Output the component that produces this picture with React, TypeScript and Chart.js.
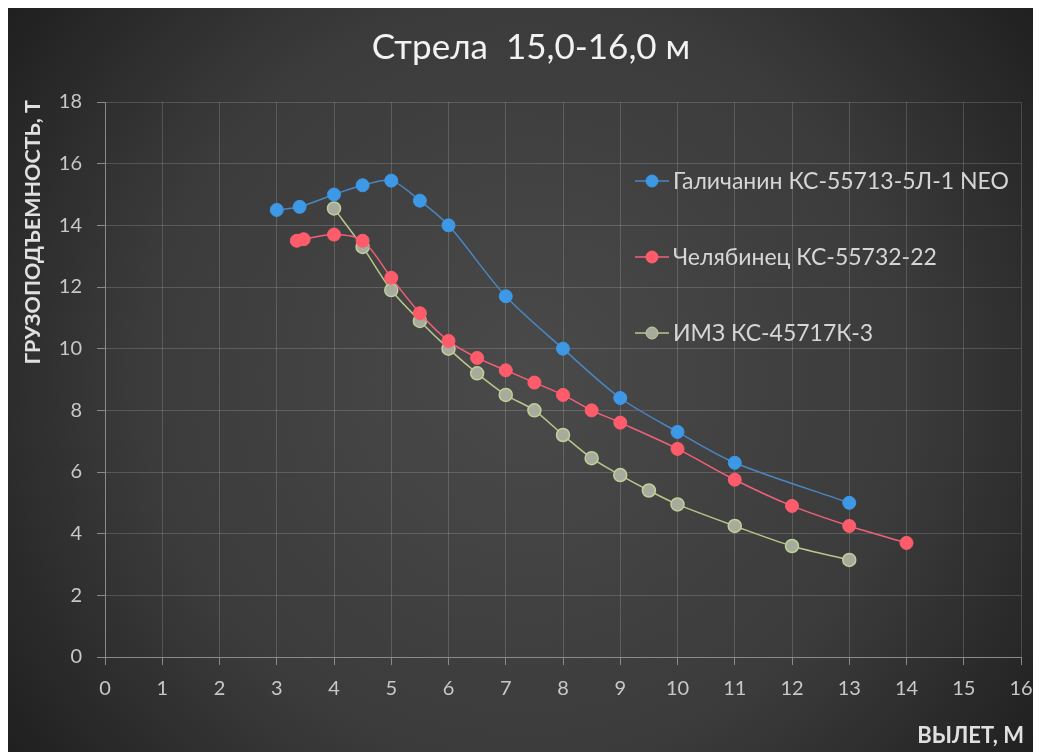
import React, { useEffect, useRef } from 'react';
import { Chart, registerables } from 'chart.js';

Chart.register(...registerables);

const TITLE = 'Стрела  15,0-16,0 м';
const X_TITLE = 'ВЫЛЕТ, М';
const Y_TITLE = 'ГРУЗОПОДЪЕМНОСТЬ, Т';

const seriesNames = ['Галичанин КС-55713-5Л-1 NEO', 'Челябинец КС-55732-22', 'ИМЗ КС-45717К-3'];

const galichX = [3, 3.4, 4, 4.5, 5, 5.5, 6, 7, 8, 9, 10, 11, 13];
const galichY = [14.5, 14.6, 15.0, 15.3, 15.45, 14.8, 14.0, 11.7, 10.0, 8.4, 7.3, 6.3, 5.0];

const chelX = [3.35, 3.47, 4, 4.5, 5, 5.5, 6, 6.5, 7, 7.5, 8, 8.5, 9, 10, 11, 12, 13, 14];
const chelY = [13.5, 13.55, 13.7, 13.5, 12.3, 11.15, 10.25, 9.7, 9.3, 8.9, 8.5, 8.0, 7.6, 6.75, 5.75, 4.9, 4.25, 3.7];

const imzX = [4, 4.5, 5, 5.5, 6, 6.5, 7, 7.5, 8, 8.5, 9, 9.5, 10, 11, 12, 13];
const imzY = [14.55, 13.3, 11.9, 10.9, 10.0, 9.2, 8.5, 8.0, 7.2, 6.45, 5.9, 5.4, 4.95, 4.25, 3.6, 3.15];

const xTickValues = [0, 1, 2, 3, 4, 5, 6, 7, 8, 9, 10, 11, 12, 13, 14, 15, 16];
const yTickValues = [0, 2, 4, 6, 8, 10, 12, 14, 16, 18];

const FONT = 'Lato, "Open Sans", sans-serif';

const toPoints = (xs: number[], ys: number[]) => xs.map((x, i) => ({ x, y: ys[i] }));

const decoPlugin = {
  id: 'deco',
  beforeDraw(chart: any) {
    const { ctx, width, height } = chart;
    ctx.save();
    const g = ctx.createRadialGradient(width * 0.5, height * 0.5, 0, width * 0.5, height * 0.5, width * 0.62);
    g.addColorStop(0, '#4a4a4a');
    g.addColorStop(0.6, '#3b3b3b');
    g.addColorStop(1, '#1f1f1f');
    ctx.fillStyle = g;
    ctx.fillRect(0, 0, width, height);
    ctx.restore();
  },
  afterDraw(chart: any) {
    const { ctx } = chart;
    ctx.save();
    // title
    ctx.fillStyle = '#f2f2f2';
    ctx.font = `35px ${FONT}`;
    ctx.textAlign = 'center';
    ctx.textBaseline = 'middle';
    ctx.fillText(TITLE, 523, 40);

    // x axis title
    ctx.fillStyle = '#e0e0e0';
    ctx.font = `bold 22px ${FONT}`;
    ctx.textAlign = 'right';
    ctx.textBaseline = 'middle';
    ctx.fillText(X_TITLE, 1016, 728);

    // y axis title
    ctx.save();
    ctx.translate(25, 92);
    ctx.rotate(-Math.PI / 2);
    ctx.textAlign = 'right';
    ctx.textBaseline = 'middle';
    ctx.font = `bold 21.5px ${FONT}`;
    ctx.fillStyle = '#e0e0e0';
    ctx.fillText(Y_TITLE, 0, 0);
    ctx.restore();

    // legend
    const rows = [173, 249, 325];
    chart.data.datasets.forEach((ds: any, i: number) => {
      const y = rows[i];
      ctx.strokeStyle = ds.borderColor;
      ctx.lineWidth = 1.5;
      ctx.beginPath();
      ctx.moveTo(627, y);
      ctx.lineTo(661, y);
      ctx.stroke();
      ctx.beginPath();
      ctx.arc(644, y, 6, 0, Math.PI * 2);
      ctx.fillStyle = ds.pointBackgroundColor;
      ctx.fill();
      ctx.strokeStyle = ds.pointBorderColor;
      ctx.lineWidth = 1;
      ctx.stroke();
      ctx.fillStyle = '#d6d6d6';
      ctx.font = `23px ${FONT}`;
      ctx.textAlign = 'left';
      ctx.textBaseline = 'middle';
      ctx.fillText(ds.label, 665, y + 1);
    });
    ctx.restore();
  },
};

export default function App() {
  const ref = useRef<HTMLCanvasElement>(null);
  useEffect(() => {
    if (!ref.current) return;
    const chart = new Chart(ref.current, {
      type: 'line',
      data: {
        datasets: [
          {
            label: seriesNames[0],
            data: toPoints(galichX, galichY),
            borderColor: '#4a86c4',
            backgroundColor: '#3d98e6',
            pointBackgroundColor: '#3d98e6',
            pointBorderColor: '#3d98e6',
            borderWidth: 1.5,
            pointRadius: 6.5,
            pointBorderWidth: 1,
            tension: 0.3,
          },
          {
            label: seriesNames[1],
            data: toPoints(chelX, chelY),
            borderColor: '#f2607a',
            backgroundColor: '#ff5c6b',
            pointBackgroundColor: '#ff5c6b',
            pointBorderColor: '#ff5c6b',
            borderWidth: 1.5,
            pointRadius: 6.5,
            pointBorderWidth: 1,
            tension: 0.3,
          },
          {
            label: seriesNames[2],
            data: toPoints(imzX, imzY),
            borderColor: '#b8c88a',
            backgroundColor: '#a7ab9d',
            pointBackgroundColor: '#a7ab9d',
            pointBorderColor: '#c0d098',
            borderWidth: 1.5,
            pointRadius: 6.5,
            pointBorderWidth: 1.5,
            tension: 0.3,
          },
        ],
      },
      options: {
        animation: false,
        responsive: false,
        layout: { padding: { top: 94, right: 20, left: 0, bottom: 0 } },
        plugins: { legend: { display: false }, title: { display: false }, tooltip: { enabled: false } },
        scales: {
          x: {
            type: 'linear',
            min: 0,
            max: 16,
            afterFit: (s: any) => { s.height = 96; s.paddingLeft = 0; s.paddingRight = 0; },
            afterBuildTicks: (s: any) => { s.ticks = xTickValues.map((v) => ({ value: v })); },
            ticks: { color: '#c8c8c8', font: { family: FONT, size: 20 }, padding: 12, maxRotation: 0 },
            grid: { color: 'rgba(255,255,255,0.16)', tickColor: '#8a8a8a', tickLength: 8, drawTicks: true },
            border: { color: '#8a8a8a', width: 1 },
          },
          y: {
            type: 'linear',
            min: 0,
            max: 18,
            afterFit: (s: any) => { s.width = 97; s.paddingTop = 0; s.paddingBottom = 0; },
            afterBuildTicks: (s: any) => { s.ticks = yTickValues.map((v) => ({ value: v })); },
            ticks: { color: '#c8c8c8', font: { family: FONT, size: 20 }, padding: 15 },
            grid: { color: 'rgba(255,255,255,0.16)', tickColor: '#8a8a8a', tickLength: 8, drawTicks: true },
            border: { color: '#8a8a8a', width: 1 },
          },
        },
      },
      plugins: [decoPlugin],
    } as any);
    return () => chart.destroy();
  }, []);
  return (
    <div style={{ width: 1033, height: 745 }}>
      <canvas ref={ref} width={1033} height={745} style={{ display: 'block' }} />
    </div>
  );
}
